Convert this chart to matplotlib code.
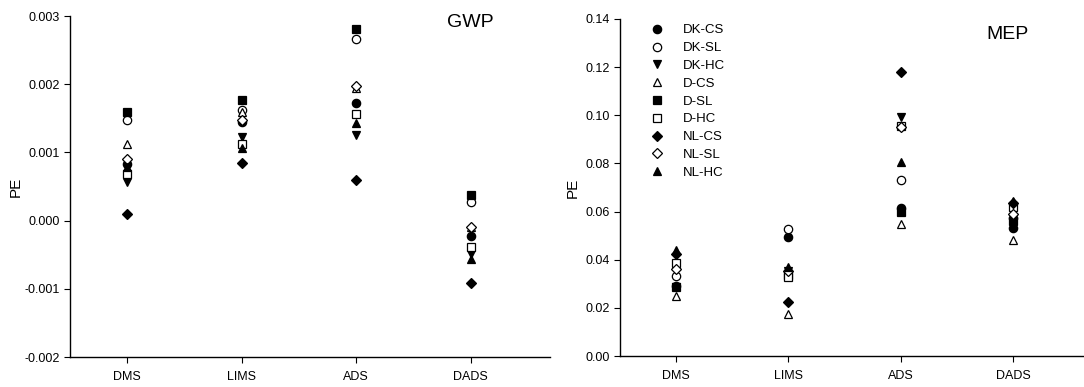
import matplotlib
matplotlib.use("Agg")
import matplotlib.pyplot as plt
import numpy as np

plt.rcParams['font.family'] = ['Liberation Sans', 'DejaVu Sans']

# categories on the x axis
systems = ['DMS', 'LIMS', 'ADS', 'DADS']
scenarios = ['DK-CS', 'DK-SL', 'DK-HC', 'D-CS', 'D-SL', 'D-HC', 'NL-CS', 'NL-SL', 'NL-HC']

# GWP values (DMS, LIMS, ADS, DADS) per scenario
gwp_dk_cs = [0.00083, 0.00145, 0.00172, -0.00022]
gwp_dk_sl = [0.00147, 0.00162, 0.00267, 0.00027]
gwp_dk_hc = [0.00056, 0.00122, 0.00125, -0.00049]
gwp_d_cs = [0.00112, 0.00160, 0.00195, -0.00010]
gwp_d_sl = [0.00160, 0.00177, 0.00281, 0.00037]
gwp_d_hc = [0.00068, 0.00112, 0.00156, -0.00039]
gwp_nl_cs = [0.00010, 0.00085, 0.00059, -0.00092]
gwp_nl_sl = [0.00091, 0.00148, 0.00197, -0.00009]
gwp_nl_hc = [0.00078, 0.00106, 0.00143, -0.00057]

# MEP values (DMS, LIMS, ADS, DADS) per scenario
mep_dk_cs = [0.0290, 0.0493, 0.0615, 0.0530]
mep_dk_sl = [0.0333, 0.0529, 0.0731, 0.0575]
mep_dk_hc = [0.0288, 0.0355, 0.0993, 0.0625]
mep_d_cs = [0.0249, 0.0175, 0.0547, 0.0483]
mep_d_sl = [0.0285, 0.0335, 0.0600, 0.0560]
mep_d_hc = [0.0385, 0.0330, 0.0955, 0.0620]
mep_nl_cs = [0.0425, 0.0224, 0.1181, 0.0635]
mep_nl_sl = [0.0360, 0.0355, 0.0950, 0.0592]
mep_nl_hc = [0.0442, 0.0368, 0.0807, 0.0645]

gwp = [gwp_dk_cs, gwp_dk_sl, gwp_dk_hc, gwp_d_cs, gwp_d_sl, gwp_d_hc, gwp_nl_cs, gwp_nl_sl, gwp_nl_hc]
mep = [mep_dk_cs, mep_dk_sl, mep_dk_hc, mep_d_cs, mep_d_sl, mep_d_hc, mep_nl_cs, mep_nl_sl, mep_nl_hc]

# marker style per scenario: (marker, filled, size)
styles = [('o', True, 6), ('o', False, 6), ('v', True, 6), ('^', False, 6),
          ('s', True, 5.5), ('s', False, 5.5), ('D', True, 5.5), ('D', False, 5.5), ('^', True, 6)]

x = np.arange(1, len(systems) + 1)

fig = plt.figure(figsize=(10.84, 3.87), dpi=100)
ax1 = fig.add_axes([0.0646, 0.0775, 0.443, 0.881])
ax2 = fig.add_axes([0.572, 0.080, 0.428, 0.871])


def draw(ax, data, ylim, yticks, fmt, spacing):
    for vals, lab, (m, filled, ms) in zip(data, scenarios, styles):
        ax.plot(x, vals, linestyle='none', marker=m, markersize=ms,
                markerfacecolor='black' if filled else 'white',
                markeredgecolor='black', markeredgewidth=0.9, label=lab)
    # category spacing in pixels -> xlim right edge
    ax.set_xlim(0.5, 0.5 + ax.get_position().width * 1084 / spacing)
    ax.set_ylim(*ylim)
    ax.set_yticks(yticks)
    ax.set_yticklabels([fmt % v for v in yticks])
    ax.set_xticks(x)
    ax.set_xticklabels(systems)
    ax.spines['top'].set_visible(False)
    ax.spines['right'].set_visible(False)
    ax.spines['left'].set_linewidth(1.0)
    ax.spines['bottom'].set_linewidth(1.0)
    ax.tick_params(direction='out', length=4, width=0.8, labelsize=9)
    ax.tick_params(axis='x', pad=6)
    ax.set_ylabel('PE', fontsize=11, labelpad=4)


draw(ax1, gwp, (-0.002, 0.003), [-0.002, -0.001, 0.0, 0.001, 0.002, 0.003], '%.3f', 114.5)
draw(ax2, mep, (0.0, 0.14), [0.0, 0.02, 0.04, 0.06, 0.08, 0.10, 0.12, 0.14], '%.2f', 112.3)
ax1.yaxis.labelpad = 1

ax1.text(0.785, 1.005, 'GWP', transform=ax1.transAxes, fontsize=14, va='top', ha='left')
ax2.text(0.79, 0.98, 'MEP', transform=ax2.transAxes, fontsize=14, va='top', ha='left')

ax2.legend(loc='upper left', bbox_to_anchor=(0.055, 1.0), frameon=False,
           fontsize=9.5, handletextpad=1.4, labelspacing=0.42, handlelength=1.0,
           borderaxespad=0)

fig.savefig('out.png', dpi=100)
